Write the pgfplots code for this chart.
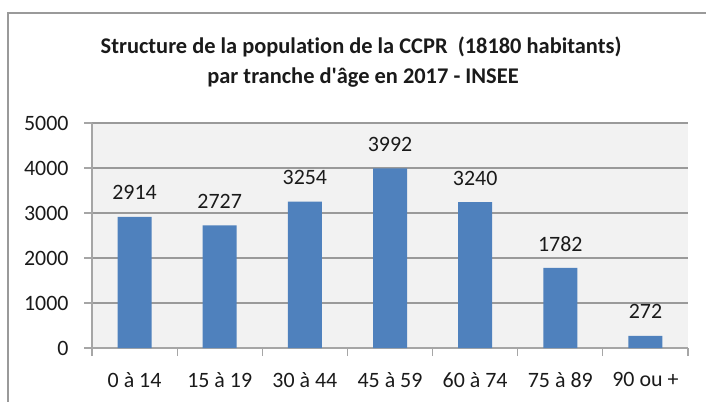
\documentclass[border=0pt]{standalone}
\usepackage{pgfplots}
\pgfplotsset{compat=1.18}
\usepackage{fontspec}
\setmainfont{Carlito}[Ligatures={NoCommon}]
\definecolor{barblue}{HTML}{4F81BD}
\definecolor{gridgray}{HTML}{9A9A9A}
\definecolor{axgray}{HTML}{A6A6A6}
\definecolor{bggray}{HTML}{F2F2F2}
\definecolor{txt}{HTML}{1A1A1A}
\begin{document}
\begin{tikzpicture}[x=1bp,y=1bp]
\path[use as bounding box] (0,0) rectangle (706,401);
\draw[color=gridgray, line width=1.3bp] (8,-5) -- (8,388) -- (712,388);
\node[font=\fontsize{22.5}{26}\selectfont\bfseries, text=txt] at (361,354) {Structure de la population de la CCPR\ \ (18180 habitants)};
\node[font=\fontsize{22.5}{26}\selectfont\bfseries, text=txt] at (363,323) {par tranche d\textquotesingle âge en 2017 - INSEE};
\begin{axis}[
  at={(92bp,53bp)}, anchor=south west,
  width=596bp, height=225bp, scale only axis,
  ybar, bar width=34bp,
  xmin=-0.5, xmax=6.5, ymin=0, ymax=5000,
  ytick={0,1000,...,5000},
  xtick={-0.5,0.5,...,6.5},
  x tick label as interval,
  xticklabels={0 à 14,15 à 19,30 à 44,45 à 59,60 à 74,75 à 89,90 ou +},
  tick align=outside, major tick length=8bp,
  axis lines*=left,
  axis line style={axgray, line width=1.2bp},
  tick style={axgray, line width=1.2bp},
  ymajorgrids, xmajorgrids=false,
  grid style={gridgray, line width=1.4bp},
  axis background/.style={fill=bggray},
  ticklabel style={font=\fontsize{22}{26}\selectfont, text=txt},
  /pgf/number format/assume math mode=true,
  /pgf/number format/1000 sep={},
  yticklabel style={xshift=-12bp},
  xticklabel style={yshift=-13bp},
  nodes near coords,
  every node near coord/.append style={font=\fontsize{22}{26}\selectfont, text=txt, anchor=center, yshift=24bp},
]
\addplot[fill=barblue, draw=none] coordinates {
(0,2914) (1,2727) (2,3254) (3,3992) (4,3240) (5,1782) (6,272)};
\end{axis}
\end{tikzpicture}
\end{document}
